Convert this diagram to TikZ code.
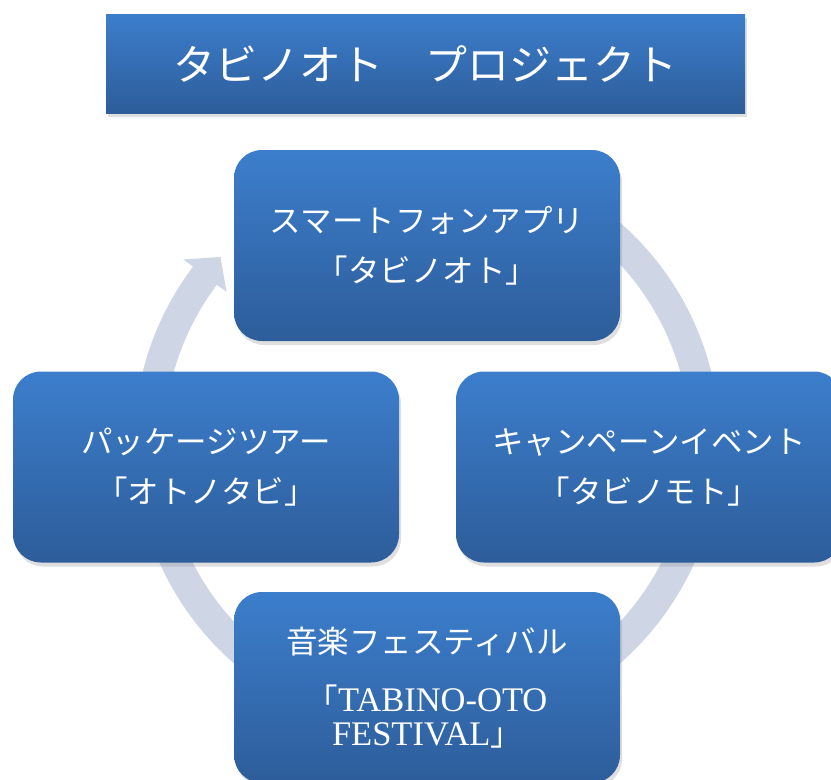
\documentclass[tikz,border=0pt]{standalone}
\usepackage{fontspec}
\setmainfont{Liberation Serif}
\newfontfamily\jp{Noto Sans CJK JP}
\usetikzlibrary{shadows}
\definecolor{boxtop}{RGB}{60,126,204}
\definecolor{boxbot}{RGB}{45,93,154}
\definecolor{ringcol}{RGB}{206,214,230}
\tikzset{
  bluefill/.style={top color=boxtop, bottom color=boxbot, draw=none, text=white,
    drop shadow={shadow xshift=2pt, shadow yshift=-4pt, opacity=0.25}},
  cyclebox/.style={bluefill, rounded corners=28pt, minimum width=386pt, minimum height=191pt,
    inner sep=0pt, align=center, font=\jp\fontsize{31.5}{50}\selectfont},
  titlebox/.style={bluefill, minimum width=639pt, minimum height=99pt, inner sep=0pt,
    font=\jp\fontsize{42}{50}\selectfont},
}
\begin{document}
\begin{tikzpicture}[x=1pt,y=-1pt]
\useasboundingbox (0,0) rectangle (831,780);
% circular arrow
\begin{scope}[shift={(427,443)}, y=1pt]
  \fill[ringcol] (80:263) arc[start angle=80, end angle=-217, radius=263]
    -- (-217:251) -- (-222:278) -- (-217:305) -- (-217:293)
    arc[start angle=-217, end angle=80, radius=293] -- cycle;
\end{scope}
\node[titlebox] (title) at (425.5,63.5) {タビノオト　プロジェクト};
\node[cyclebox] (app) at (427,245.5) {スマートフォンアプリ\\「タビノオト」};
\node[cyclebox] (tour) at (206,467) {パッケージツアー\\「オトノタビ」};
\node[cyclebox] (event) at (649,467) {キャンペーンイベント\\「タビノモト」};
\node[cyclebox, font=\jp\fontsize{31.5}{34}\selectfont] (fest) at (427,687.5)
  {音楽フェスティバル\\[24pt]「{\rmfamily\fontsize{34.5}{34}\selectfont TABINO-OTO}\\{\rmfamily\fontsize{34.5}{34}\selectfont FESTIVAL}」};
\end{tikzpicture}
\end{document}
